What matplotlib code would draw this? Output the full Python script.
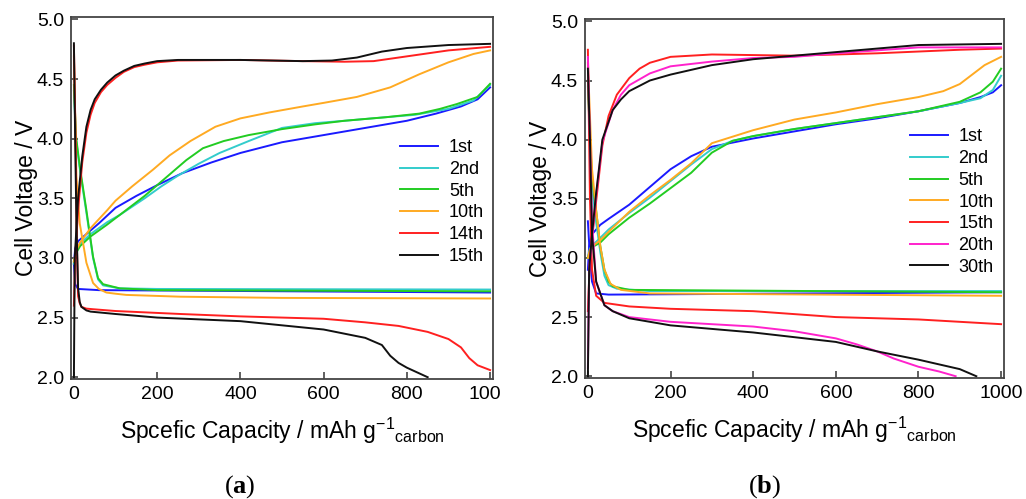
import numpy as np
import matplotlib
matplotlib.use('Agg')
import matplotlib.pyplot as plt
from matplotlib.transforms import Bbox

plt.rcParams['font.family'] = ['Liberation Sans', 'DejaVu Sans']
plt.rcParams['mathtext.fontset'] = 'custom'
plt.rcParams['mathtext.bf'] = 'Liberation Serif:bold'
plt.rcParams['mathtext.rm'] = 'Liberation Serif'

# ---------------- panel (a) ----------------
a_labels = ['1st', '2nd', '5th', '10th', '14th', '15th']
a_colors = ['#1a1aff', '#33cccc', '#22cc22', '#ffaa22', '#ff2020', '#111111']

a1_chg_x = [0, 3, 10, 30, 60, 100, 150, 200, 260, 330, 400, 500, 600, 700, 800, 870, 930, 970, 1000]
a1_chg_v = [2.95, 3.08, 3.14, 3.2, 3.29, 3.42, 3.52, 3.61, 3.71, 3.8, 3.88, 3.97, 4.03, 4.09, 4.15, 4.21, 4.27, 4.33, 4.43]
a1_dis_x = [0, 3, 10, 60, 1000]
a1_dis_v = [2.95, 2.78, 2.74, 2.73, 2.71]

a2_chg_x = [0, 5, 15, 40, 80, 110, 170, 210, 250, 300, 350, 420, 500, 580, 650, 750, 820, 900, 960, 1000]
a2_chg_v = [2.95, 3.05, 3.12, 3.2, 3.3, 3.36, 3.5, 3.6, 3.69, 3.79, 3.88, 3.98, 4.09, 4.13, 4.15, 4.18, 4.2, 4.25, 4.32, 4.45]
a2_dis_x = [0, 5, 14, 30, 46, 58, 70, 110, 200, 1000]
a2_dis_v = [4.4, 4.0, 3.75, 3.38, 3.0, 2.82, 2.77, 2.745, 2.74, 2.735]

a5_chg_x = [0, 5, 15, 40, 80, 110, 170, 200, 240, 270, 310, 360, 420, 500, 580, 650, 750, 830, 880, 920, 970, 1000]
a5_chg_v = [2.97, 3.04, 3.1, 3.18, 3.28, 3.36, 3.52, 3.61, 3.73, 3.82, 3.92, 3.98, 4.03, 4.08, 4.12, 4.15, 4.18, 4.21, 4.25, 4.29, 4.35, 4.46]
a5_dis_x = [0, 5, 14, 30, 46, 58, 70, 110, 200, 1000]
a5_dis_v = [4.45, 4.02, 3.77, 3.4, 3.01, 2.83, 2.78, 2.745, 2.73, 2.72]

a10_chg_x = [0, 5, 15, 40, 80, 100, 140, 190, 230, 280, 340, 400, 470, 550, 600, 680, 760, 830, 900, 960, 1000]
a10_chg_v = [2.97, 3.06, 3.13, 3.25, 3.4, 3.48, 3.6, 3.74, 3.86, 3.98, 4.1, 4.17, 4.22, 4.27, 4.3, 4.35, 4.43, 4.54, 4.64, 4.71, 4.74]
a10_dis_x = [0, 6, 14, 30, 46, 60, 78, 100, 126, 256, 500, 1000]
a10_dis_v = [4.69, 3.68, 3.29, 2.96, 2.79, 2.74, 2.71, 2.7, 2.69, 2.675, 2.665, 2.66]

a14_chg_x = [0, 3, 10, 20, 30, 40, 50, 65, 80, 100, 120, 145, 170, 200, 250, 400, 550, 650, 720, 800, 900, 1000]
a14_chg_v = [2.6, 3.0, 3.4, 3.8, 4.05, 4.2, 4.3, 4.39, 4.45, 4.51, 4.56, 4.6, 4.62, 4.64, 4.655, 4.66, 4.65, 4.645, 4.65, 4.69, 4.74, 4.77]
a14_dis_x = [0, 4, 7, 10, 14, 18, 30, 46, 100, 256, 400, 600, 700, 780, 850, 900, 930, 950, 970, 1000]
a14_dis_v = [4.78, 4.0, 3.13, 2.68, 2.62, 2.59, 2.575, 2.57, 2.555, 2.53, 2.51, 2.49, 2.46, 2.43, 2.38, 2.32, 2.25, 2.16, 2.1, 2.06]

a15_chg_x = [0, 2, 10, 20, 30, 40, 50, 65, 80, 100, 120, 145, 170, 200, 250, 400, 550, 620, 680, 740, 800, 900, 1000]
a15_chg_v = [2.0, 3.0, 3.5, 3.85, 4.1, 4.24, 4.33, 4.41, 4.47, 4.53, 4.57, 4.61, 4.63, 4.65, 4.66, 4.66, 4.65, 4.655, 4.68, 4.73, 4.76, 4.785, 4.795]
a15_dis_x = [0, 3, 6, 10, 14, 18, 30, 40, 100, 200, 400, 600, 700, 740, 760, 780, 800, 850]
a15_dis_v = [4.8, 4.0, 3.3, 2.75, 2.63, 2.59, 2.56, 2.55, 2.53, 2.5, 2.47, 2.4, 2.33, 2.27, 2.18, 2.12, 2.08, 2.0]

# ---------------- panel (b) ----------------
b_labels = ['1st', '2nd', '5th', '10th', '15th', '20th', '30th']
b_colors = ['#1a1aff', '#33cccc', '#22cc22', '#ffaa22', '#ff2020', '#ff22cc', '#111111']

b1_chg_x = [0, 3, 10, 30, 50, 100, 150, 200, 250, 300, 400, 500, 600, 700, 800, 900, 950, 980, 1000]
b1_chg_v = [2.9, 3.1, 3.2, 3.28, 3.33, 3.45, 3.6, 3.75, 3.86, 3.94, 4.01, 4.07, 4.13, 4.18, 4.24, 4.31, 4.36, 4.4, 4.46]
b1_dis_x = [0, 5, 10, 20, 50, 300, 1000]
b1_dis_v = [3.31, 3.0, 2.8, 2.7, 2.69, 2.695, 2.71]

b2_chg_x = [0, 5, 15, 30, 50, 100, 150, 200, 250, 300, 350, 400, 500, 600, 700, 800, 900, 950, 980, 1000]
b2_chg_v = [3.0, 3.08, 3.12, 3.17, 3.24, 3.38, 3.51, 3.65, 3.79, 3.92, 3.99, 4.03, 4.09, 4.14, 4.19, 4.24, 4.31, 4.35, 4.42, 4.54]
b2_dis_x = [0, 5, 10, 20, 30, 40, 50, 70, 150, 1000]
b2_dis_v = [4.45, 4.0, 3.6, 3.3, 3.05, 2.85, 2.77, 2.74, 2.72, 2.72]

b5_chg_x = [0, 5, 15, 30, 50, 100, 150, 200, 250, 300, 350, 400, 500, 600, 700, 800, 900, 950, 980, 1000]
b5_chg_v = [3.0, 3.06, 3.1, 3.13, 3.2, 3.34, 3.46, 3.59, 3.72, 3.89, 3.99, 4.03, 4.09, 4.14, 4.19, 4.24, 4.32, 4.4, 4.49, 4.6]
b5_dis_x = [0, 5, 11, 20, 30, 40, 50, 60, 100, 1000]
b5_dis_v = [4.5, 4.0, 3.64, 3.4, 3.1, 2.9, 2.8, 2.76, 2.73, 2.71]

b10_chg_x = [0, 5, 15, 30, 50, 100, 150, 200, 250, 300, 400, 500, 600, 700, 800, 860, 900, 930, 960, 1000]
b10_chg_v = [3.0, 3.07, 3.11, 3.15, 3.22, 3.39, 3.53, 3.66, 3.8, 3.97, 4.08, 4.17, 4.23, 4.3, 4.36, 4.41, 4.47, 4.55, 4.63, 4.7]
b10_dis_x = [0, 5, 10, 20, 30, 40, 55, 80, 150, 1000]
b10_dis_v = [4.65, 4.2, 3.75, 3.4, 3.1, 2.9, 2.78, 2.73, 2.7, 2.68]

b15_chg_x = [0, 5, 19, 35, 50, 70, 100, 125, 150, 200, 300, 500, 700, 900, 1000]
b15_chg_v = [2.55, 3.0, 3.45, 3.95, 4.2, 4.38, 4.52, 4.6, 4.65, 4.7, 4.72, 4.71, 4.73, 4.76, 4.77]
b15_dis_x = [0, 5, 10, 20, 40, 100, 200, 400, 600, 800, 1000]
b15_dis_v = [4.76, 3.5, 2.9, 2.68, 2.62, 2.59, 2.57, 2.55, 2.5, 2.48, 2.44]

b20_chg_x = [0, 3, 19, 35, 60, 80, 100, 150, 200, 300, 400, 500, 600, 800, 1000]
b20_chg_v = [2.07, 2.9, 3.5, 3.98, 4.25, 4.38, 4.46, 4.56, 4.62, 4.66, 4.69, 4.7, 4.73, 4.78, 4.78]
b20_dis_x = [0, 5, 10, 20, 40, 60, 100, 200, 400, 500, 600, 650, 700, 740, 800, 850, 890]
b20_dis_v = [4.7, 4.0, 3.3, 2.8, 2.6, 2.55, 2.5, 2.46, 2.42, 2.38, 2.32, 2.27, 2.21, 2.15, 2.08, 2.04, 2.0]

b30_chg_x = [0, 3, 10, 20, 35, 60, 80, 100, 150, 200, 300, 400, 500, 600, 700, 800, 1000]
b30_chg_v = [2.0, 2.9, 3.2, 3.55, 4.0, 4.25, 4.34, 4.41, 4.5, 4.55, 4.63, 4.68, 4.71, 4.74, 4.77, 4.8, 4.81]
b30_dis_x = [0, 5, 10, 20, 40, 60, 100, 200, 400, 600, 700, 800, 900, 940]
b30_dis_v = [4.6, 4.0, 3.2, 2.8, 2.6, 2.55, 2.49, 2.43, 2.37, 2.29, 2.21, 2.14, 2.06, 2.0]

a_curves = [
    (a1_chg_x, a1_chg_v, a1_dis_x, a1_dis_v),
    (a2_chg_x, a2_chg_v, a2_dis_x, a2_dis_v),
    (a5_chg_x, a5_chg_v, a5_dis_x, a5_dis_v),
    (a10_chg_x, a10_chg_v, a10_dis_x, a10_dis_v),
    (a14_chg_x, a14_chg_v, a14_dis_x, a14_dis_v),
    (a15_chg_x, a15_chg_v, a15_dis_x, a15_dis_v),
]
b_curves = [
    (b1_chg_x, b1_chg_v, b1_dis_x, b1_dis_v),
    (b2_chg_x, b2_chg_v, b2_dis_x, b2_dis_v),
    (b5_chg_x, b5_chg_v, b5_dis_x, b5_dis_v),
    (b10_chg_x, b10_chg_v, b10_dis_x, b10_dis_v),
    (b15_chg_x, b15_chg_v, b15_dis_x, b15_dis_v),
    (b20_chg_x, b20_chg_v, b20_dis_x, b20_dis_v),
    (b30_chg_x, b30_chg_v, b30_dis_x, b30_dis_v),
]

fig = plt.figure(figsize=(10.26, 4.99), dpi=100)
ax_a = fig.add_axes([71 / 1026, 1 - 379 / 499, (493 - 71) / 1026, (379 - 17) / 499])
ax_b = fig.add_axes([585 / 1026, 1 - 378 / 499, (1004 - 585) / 1026, (378 - 19) / 499])

xlabel = r'Spcefic Capacity / mAh g$^{\mathregular{-1}}$$_{\mathregular{carbon}}$'


def draw_panel(ax, curves, labels, colors, legend_xy):
    for (cx, cv, dx, dv), lab, col in zip(curves, labels, colors):
        ax.plot(cx, cv, color=col, lw=1.4, label=lab)
        ax.plot(dx, dv, color=col, lw=1.4)
    ax.set_xlim(-7, 1007)
    ax.set_ylim(1.985, 5.02)
    ax.set_xticks([0, 200, 400, 600, 800, 1000])
    ax.set_yticks([2.0, 2.5, 3.0, 3.5, 4.0, 4.5, 5.0])
    ax.set_yticklabels(['2.0', '2.5', '3.0', '3.5', '4.0', '4.5', '5.0'])
    ax.tick_params(direction='in', length=5, width=1.2, color='#444444',
                   labelsize=14, pad=5, top=False, right=False)
    for s in ax.spines.values():
        s.set_color('#444444')
        s.set_linewidth(1.3)
    ax.set_ylabel('Cell Voltage / V', fontsize=16.5, labelpad=-1)
    ax.set_xlabel(xlabel, fontsize=16.5, labelpad=9)
    ax.legend(loc='upper left', bbox_to_anchor=legend_xy, frameon=False,
              fontsize=13, handlelength=2.1, handletextpad=0.6,
              labelspacing=0.26, borderpad=0, borderaxespad=0)


draw_panel(ax_a, a_curves, a_labels, a_colors, (0.78, 0.662))
draw_panel(ax_b, b_curves, b_labels, b_colors, (0.775, 0.695))

# the last tick label of panel (a) is cut by the panel border
fig.canvas.draw()
clip = Bbox.from_extents(0, 0, 501, 499)
for lbl in ax_a.get_xticklabels():
    lbl.set_clip_on(True)
    lbl.set_clip_box(clip)

fig.text(240 / 1026, 1 - 487 / 499, r'($\mathbf{a}$)', family='Liberation Serif',
         fontsize=19, ha='center', va='center')
fig.text(765 / 1026, 1 - 487 / 499, r'($\mathbf{b}$)', family='Liberation Serif',
         fontsize=19, ha='center', va='center')

fig.savefig('out.png', dpi=100)
